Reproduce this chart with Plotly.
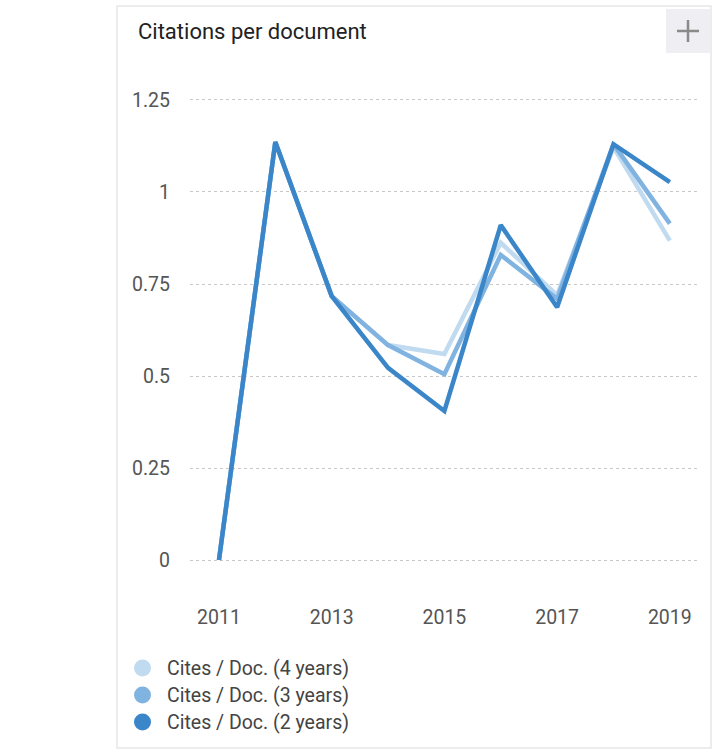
import plotly.graph_objects as go

# Citations per document, by year
years = [2011, 2012, 2013, 2014, 2015, 2016, 2017, 2018, 2019]
cites_4y = [0, 1.136, 0.717, 0.584, 0.560, 0.862, 0.720, 1.122, 0.868]
cites_3y = [0, 1.136, 0.717, 0.584, 0.505, 0.829, 0.710, 1.130, 0.914]
cites_2y = [0, 1.136, 0.717, 0.522, 0.405, 0.910, 0.687, 1.130, 1.027]

series_names = ["Cites / Doc. (4 years)", "Cites / Doc. (3 years)", "Cites / Doc. (2 years)"]
series_colors = ["#c0daf0", "#80b3e0", "#3a86c8"]
series_values = [cites_4y, cites_3y, cites_2y]

x_ticks = [2011, 2013, 2015, 2017, 2019]
y_ticks = [0, 0.25, 0.5, 0.75, 1, 1.25]
y_tick_text = ["0", "0.25", "0.5", "0.75", "1", "1.25"]

W, H = 719, 752
L, R, T, B = 190, 21, 80, 172
PW, PH = W - L - R, H - T - B

def px(x):
    return (x - L) / PW

def py(y):
    return (H - B - y) / PH

fig = go.Figure()
for name, color, vals in zip(series_names, series_colors, series_values):
    fig.add_trace(go.Scatter(
        x=years, y=vals, mode="lines", name=name,
        line=dict(color=color, width=4.5), showlegend=False,
        hoverinfo="skip",
    ))

font_family = "Roboto, Arial, sans-serif"

shapes = [
    # card outline
    dict(type="rect", xref="paper", yref="paper",
         x0=px(117), x1=px(711), y0=py(748), y1=py(6),
         line=dict(color="#e6e6e6", width=1.5), fillcolor="rgba(0,0,0,0)", layer="below"),
    # menu button
    dict(type="rect", xref="paper", yref="paper",
         x0=px(666), x1=px(710), y0=py(53), y1=py(9),
         line=dict(width=0), fillcolor="#eeeef3", layer="below"),
    dict(type="line", xref="paper", yref="paper",
         x0=px(677), x1=px(699), y0=py(31), y1=py(31),
         line=dict(color="#8a8a8a", width=2.5)),
    dict(type="line", xref="paper", yref="paper",
         x0=px(688), x1=px(688), y0=py(20), y1=py(42),
         line=dict(color="#8a8a8a", width=2.5)),
]

annotations = [
    dict(text="Citations per document", xref="paper", yref="paper",
         x=px(136), y=py(32), xanchor="left", yanchor="middle", showarrow=False,
         font=dict(family=font_family, size=22, color="#222222")),
]

# legend rows
legend_y = [668, 695, 722]
for name, color, ly in zip(series_names, series_colors, legend_y):
    shapes.append(dict(type="circle", xref="paper", yref="paper",
                       x0=px(134), x1=px(151), y0=py(ly + 8.5), y1=py(ly - 8.5),
                       line=dict(width=0), fillcolor=color))
    annotations.append(dict(text=name, xref="paper", yref="paper",
                            x=px(165), y=py(ly), xanchor="left", yanchor="middle",
                            showarrow=False,
                            font=dict(family=font_family, size=19.5, color="#444444")))

fig.update_layout(
    width=W, height=H,
    margin=dict(l=L, r=R, t=T, b=B, pad=0),
    paper_bgcolor="white", plot_bgcolor="white",
    shapes=shapes, annotations=annotations,
    xaxis=dict(
        range=[2010.486, 2019.5], tickvals=x_ticks, ticktext=[str(v) for v in x_ticks],
        showgrid=False, zeroline=False, showline=False, ticks="",
        ticklabelstandoff=23,
        tickfont=dict(family=font_family, size=19.5, color="#555555"),
        fixedrange=True,
    ),
    yaxis=dict(
        range=[-0.0543, 1.3043], tickvals=y_ticks, ticktext=y_tick_text,
        showgrid=True, gridcolor="#c8c8c8", griddash="dot", gridwidth=1,
        zeroline=False, showline=False, ticks="",
        ticklabelstandoff=19,
        tickfont=dict(family=font_family, size=19.5, color="#555555"),
        fixedrange=True,
    ),
    showlegend=False,
)

fig.write_html("out.html", config={"displayModeBar": False})
